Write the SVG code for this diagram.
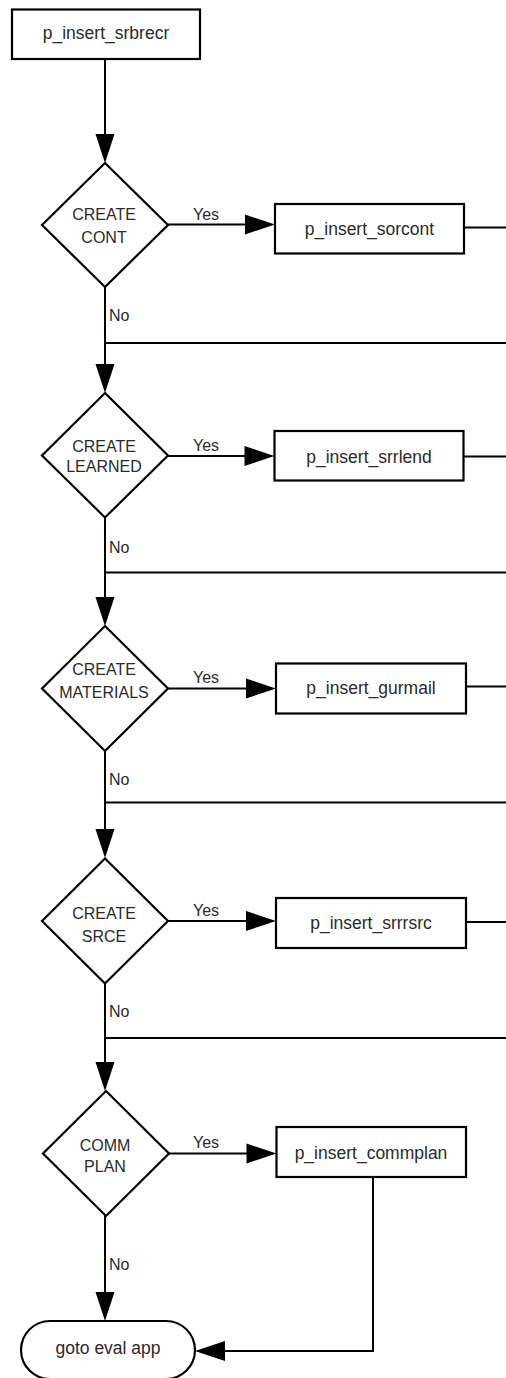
<svg xmlns="http://www.w3.org/2000/svg" width="506" height="1378" viewBox="0 0 506 1378">
  <style>
    .shape { fill: #ffffff; stroke: #000000; stroke-width: 2.2; }
    .wire { fill: none; stroke: #000000; stroke-width: 2; }
    .head { fill: #000000; stroke: none; }
    text { font-family: "Liberation Sans", Arial, sans-serif; fill: #2a2a2a; }
    .box-label { font-size: 17.5px; text-anchor: middle; }
    .dec-label { font-size: 16px; text-anchor: middle; }
    .edge-label { font-size: 16px; }
  </style>
  <defs>
    <!-- arrowheads, tip at the origin -->
    <path id="head-down" d="M0,0 L-9.5,-29 L9.5,-29 Z"/>
    <path id="head-right" d="M0,0 L-30,-10 L-30,10 Z"/>
    <path id="head-left" d="M0,0 L30,-10 L30,10 Z"/>
  </defs>

  <!-- connectors -->
  <g id="connectors">
    <!-- main spine -->
    <path class="wire" d="M105,59 V140"/>
    <path class="wire" d="M105,287 V370"/>
    <path class="wire" d="M105,517 V600"/>
    <path class="wire" d="M105,751 V832"/>
    <path class="wire" d="M105,983 V1065"/>
    <path class="wire" d="M105,1216 V1295"/>
    <use href="#head-down" class="head" x="105" y="163"/>
    <use href="#head-down" class="head" x="105" y="393"/>
    <use href="#head-down" class="head" x="105" y="626"/>
    <use href="#head-down" class="head" x="105" y="858"/>
    <use href="#head-down" class="head" x="105" y="1091"/>
    <use href="#head-down" class="head" x="105" y="1321"/>

    <!-- yes branches -->
    <path class="wire" d="M168,224.5 H250"/>
    <path class="wire" d="M168,456 H250"/>
    <path class="wire" d="M168,688.5 H250"/>
    <path class="wire" d="M168,921 H250"/>
    <path class="wire" d="M169,1153.5 H250"/>
    <use href="#head-right" class="head" x="275" y="224.5"/>
    <use href="#head-right" class="head" x="274.5" y="456"/>
    <use href="#head-right" class="head" x="276" y="688.5"/>
    <use href="#head-right" class="head" x="276" y="921"/>
    <use href="#head-right" class="head" x="276.5" y="1153.5"/>

    <!-- outgoing from procedure boxes -->
    <path class="wire" d="M464,227.5 H506"/>
    <path class="wire" d="M463.5,456.5 H506"/>
    <path class="wire" d="M466,686.5 H506"/>
    <path class="wire" d="M466,922 H506"/>

    <!-- return lines joining the spine -->
    <path class="wire" d="M105,343 H506"/>
    <path class="wire" d="M105,572.5 H506"/>
    <path class="wire" d="M105,802.5 H506"/>
    <path class="wire" d="M105,1038 H506"/>

    <!-- commplan back to the exit -->
    <path class="wire" d="M373,1177 V1351 H220"/>
    <use href="#head-left" class="head" x="195" y="1351"/>

    <!-- branch labels -->
    <text class="edge-label" x="193" y="220">Yes</text>
    <text class="edge-label" x="193" y="451">Yes</text>
    <text class="edge-label" x="193" y="683">Yes</text>
    <text class="edge-label" x="193" y="916">Yes</text>
    <text class="edge-label" x="193" y="1148">Yes</text>
    <text class="edge-label" x="109" y="321">No</text>
    <text class="edge-label" x="109" y="553">No</text>
    <text class="edge-label" x="109" y="785">No</text>
    <text class="edge-label" x="109" y="1017">No</text>
    <text class="edge-label" x="109" y="1270">No</text>
  </g>

  <!-- start procedure -->
  <g id="p_insert_srbrecr">
    <rect class="shape" x="12" y="9.5" width="188" height="49.5"/>
    <text class="box-label" x="106" y="38.5">p_insert_srbrecr</text>
  </g>

  <!-- decision: CREATE CONT -->
  <g id="create_cont">
    <path class="shape" d="M105,163 L168,225 L105,287 L42,225 Z"/>
    <text class="dec-label" x="104" y="220">CREATE</text>
    <text class="dec-label" x="104" y="242.5">CONT</text>
  </g>
  <g id="p_insert_sorcont">
    <rect class="shape" x="275" y="204" width="189" height="49.5"/>
    <text class="box-label" x="369.5" y="234.5">p_insert_sorcont</text>
  </g>

  <!-- decision: CREATE LEARNED -->
  <g id="create_learned">
    <path class="shape" d="M105,393 L168,455.5 L105,517.5 L42,455.5 Z"/>
    <text class="dec-label" x="104" y="451.5">CREATE</text>
    <text class="dec-label" x="104" y="472">LEARNED</text>
  </g>
  <g id="p_insert_srrlend">
    <rect class="shape" x="274.5" y="431" width="189" height="49.5"/>
    <text class="box-label" x="369" y="462.5">p_insert_srrlend</text>
  </g>

  <!-- decision: CREATE MATERIALS -->
  <g id="create_materials">
    <path class="shape" d="M105,626 L168,688.5 L105,751 L42,688.5 Z"/>
    <text class="dec-label" x="104" y="675">CREATE</text>
    <text class="dec-label" x="104" y="697.5">MATERIALS</text>
  </g>
  <g id="p_insert_gurmail">
    <rect class="shape" x="276" y="663.5" width="190" height="50"/>
    <text class="box-label" x="371" y="693.5">p_insert_gurmail</text>
  </g>

  <!-- decision: CREATE SRCE -->
  <g id="create_srce">
    <path class="shape" d="M105,858.5 L168,921 L105,983.5 L42,921 Z"/>
    <text class="dec-label" x="104" y="918.5">CREATE</text>
    <text class="dec-label" x="104" y="941.5">SRCE</text>
  </g>
  <g id="p_insert_srrrsrc">
    <rect class="shape" x="276" y="898" width="190" height="50"/>
    <text class="box-label" x="371" y="928.5">p_insert_srrrsrc</text>
  </g>

  <!-- decision: COMM PLAN -->
  <g id="comm_plan">
    <path class="shape" d="M106,1091 L169,1153.5 L106,1216 L43,1153.5 Z"/>
    <text class="dec-label" x="105" y="1151">COMM</text>
    <text class="dec-label" x="105" y="1172">PLAN</text>
  </g>
  <g id="p_insert_commplan">
    <rect class="shape" x="276.5" y="1127" width="189.5" height="50"/>
    <text class="box-label" x="371" y="1158.5">p_insert_commplan</text>
  </g>

  <!-- exit -->
  <g id="goto_eval_app">
    <rect class="shape" x="21" y="1321" width="174" height="58" rx="29" ry="29"/>
    <text class="box-label" x="108" y="1353.5">goto eval app</text>
  </g>
</svg>
